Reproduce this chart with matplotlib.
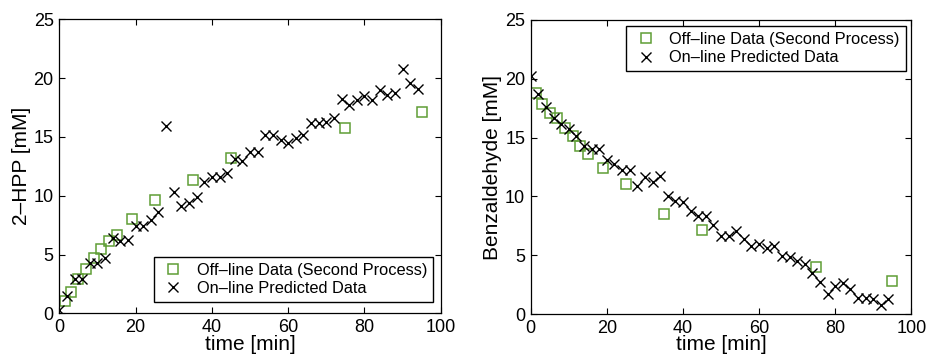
import matplotlib
matplotlib.use("Agg")
import matplotlib.pyplot as plt

plt.rcParams['font.family'] = ['Liberation Sans', 'DejaVu Sans']

# Off-line data (second process)
t_off = [1.5, 3, 5, 7, 9, 11, 13, 15, 19, 25, 35, 45, 75, 95]
hpp_off = [1.05, 1.85, 2.95, 3.8, 4.7, 5.45, 6.12, 6.7, 8.0, 9.65, 11.35, 13.2, 15.8, 17.1]
benz_off = [18.8, 17.9, 17.1, 16.65, 15.8, 15.1, 14.3, 13.6, 12.4, 11.05, 8.5, 7.17, 3.97, 2.83]

# On-line predicted data
t_on = list(range(0, 96, 2))
hpp_on = [0.3, 1.5, 2.9, 2.9, 4.25, 4.25, 4.7, 6.4, 6.15, 6.2,
          7.45, 7.45, 7.9, 8.6, 15.9, 10.35, 9.1, 9.35, 9.9, 11.2,
          11.6, 11.6, 11.9, 13.1, 12.95, 13.75, 13.75, 15.15, 15.15, 14.75,
          14.45, 14.9, 15.15, 16.2, 16.2, 16.3, 16.65, 18.25, 17.7, 18.15,
          18.5, 18.15, 18.95, 18.6, 18.7, 20.75, 19.55, 19.1]
benz_on = [20.2, 18.7, 17.6, 16.65, 16.15, 15.7, 15.1, 14.3, 14.05, 14.05,
           13.1, 12.8, 12.25, 12.25, 10.9, 11.65, 11.2, 11.75, 10.0, 9.6,
           9.5, 8.8, 8.35, 8.3, 7.6, 6.65, 6.6, 7.1, 6.4, 5.8,
           5.95, 5.6, 5.75, 4.9, 4.85, 4.55, 4.25, 3.5, 2.7, 1.7,
           2.4, 2.6, 2.1, 1.35, 1.35, 1.3, 0.8, 1.3]

x_ticks = [0, 20, 40, 60, 80, 100]
y_ticks = [0, 5, 10, 15, 20, 25]

green = '#5f9e36'

fig = plt.figure(figsize=(9.28, 3.61), dpi=100)
ax1 = fig.add_axes([0.0639, 0.132, 0.4111, 0.8145])
ax2 = fig.add_axes([0.5719, 0.130, 0.4101, 0.8146])


def style(ax, ylabel, off, on, loc, anchor):
    ax.plot(t_off, off, linestyle='none', marker='s', markersize=7.5,
            markerfacecolor='none', markeredgecolor=green, markeredgewidth=1.1,
            label='Off\u2013line Data (Second Process)')
    ax.plot(t_on, on, linestyle='none', marker='x', markersize=7.5,
            color='black', markeredgewidth=1.0, label='On\u2013line Predicted Data')
    ax.set_xlim(0, 100)
    ax.set_ylim(0, 25)
    ax.set_xticks(x_ticks)
    ax.set_yticks(y_ticks)
    ax.tick_params(direction='in', top=True, right=True, length=4, width=0.8,
                   labelsize=13, pad=4)
    for s in ax.spines.values():
        s.set_linewidth(0.9)
    ax.set_xlabel('time [min]', fontsize=15, labelpad=-1)
    ax.set_ylabel(ylabel, fontsize=15, labelpad=2)
    leg = ax.legend(loc=loc, bbox_to_anchor=anchor, fontsize=11.8, frameon=True,
                    fancybox=False, edgecolor='black', framealpha=1,
                    handlelength=1.7, handletextpad=0.6, borderpad=0.35,
                    labelspacing=0.2, borderaxespad=0)
    leg.get_frame().set_linewidth(1.0)


style(ax1, '2\u2013HPP [mM]', hpp_off, hpp_on, 'lower right', (0.98, 0.04))
style(ax2, 'Benzaldehyde [mM]', benz_off, benz_on, 'upper right', (0.985, 0.978))

fig.savefig('out.png', dpi=100)
